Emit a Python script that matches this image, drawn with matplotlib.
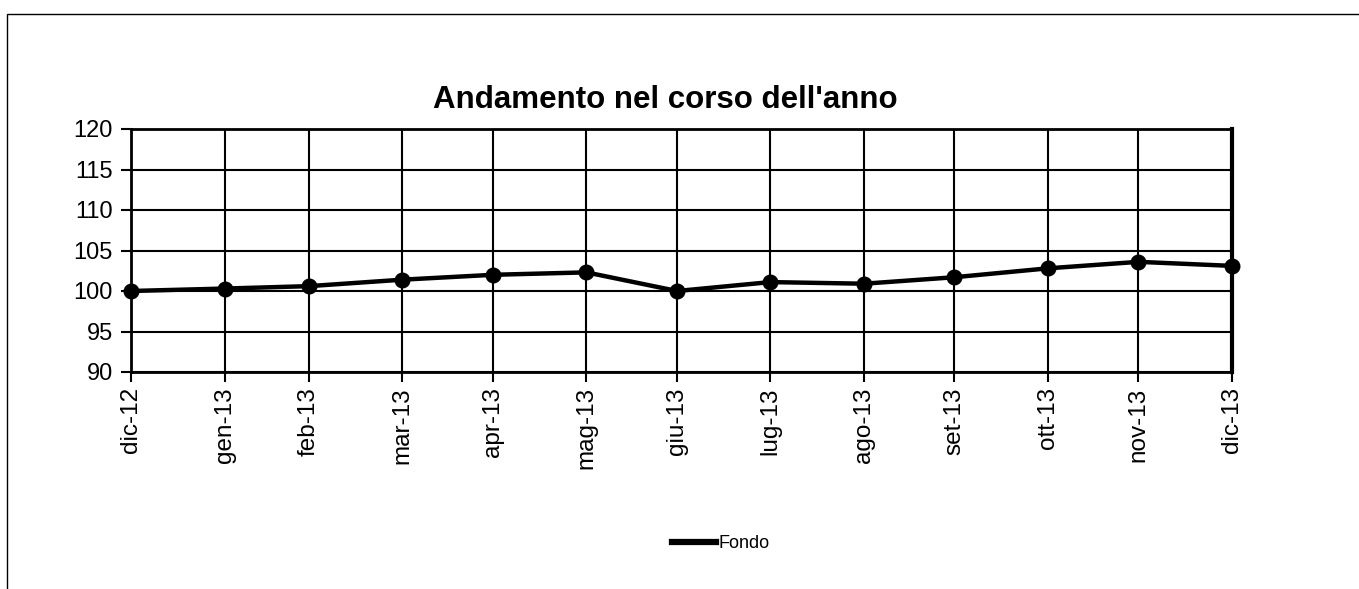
import matplotlib
matplotlib.use("Agg")
import matplotlib.pyplot as plt
from matplotlib.lines import Line2D
from matplotlib.patches import Rectangle
from datetime import datetime

plt.rcParams['font.family'] = ['Liberation Sans', 'DejaVu Sans']

# fine mese
date = ["2012-12-31", "2013-01-31", "2013-02-28", "2013-03-31", "2013-04-30",
        "2013-05-31", "2013-06-30", "2013-07-31", "2013-08-31", "2013-09-30",
        "2013-10-31", "2013-11-30", "2013-12-31"]
etichette = ["dic-12", "gen-13", "feb-13", "mar-13", "apr-13", "mag-13", "giu-13",
             "lug-13", "ago-13", "set-13", "ott-13", "nov-13", "dic-13"]
fondo = [100.0, 100.3, 100.6, 101.4, 102.0, 102.3, 100.0,
         101.1, 100.9, 101.7, 102.8, 103.6, 103.1]

giorni = [datetime.strptime(d, "%Y-%m-%d") for d in date]

W, H = 1359, 589
fig = plt.figure(figsize=(W / 100, H / 100), dpi=100)

# cornice esterna
fig.patches.append(Rectangle((7 / W, -0.2), 1.2, 1 - 14 / H + 0.2,
                             transform=fig.transFigure, fill=False,
                             edgecolor='black', linewidth=1))

ax = fig.add_axes([131 / W, 1 - 372 / H, (1232 - 131) / W, (372 - 129) / H])

ax.plot(giorni, fondo, color='black', linewidth=3.2, marker='o', markersize=10.5,
        clip_on=False, zorder=5)

ax.set_xlim(giorni[0], giorni[-1])
ax.set_ylim(90, 120)
ax.set_yticks(range(90, 121, 5))
ax.set_xticks(giorni)
ax.set_xticklabels(etichette, rotation=90, fontsize=17.5)
ax.tick_params(axis='y', labelsize=17, length=7, width=1.5, pad=6)
ax.tick_params(axis='x', length=7, width=1.5, pad=4)

ax.grid(True, color='black', linewidth=1.5)
ax.set_axisbelow(True)
for s in ['left', 'bottom', 'top']:
    ax.spines[s].set_linewidth(2)
ax.spines['right'].set_linewidth(3)

fig.text(665 / W, 1 - 108 / H, "Andamento nel corso dell'anno",
         ha='center', va='baseline', fontsize=22.5, fontweight='bold')

handle = Line2D([], [], color='black', linewidth=4.5)
fig.legend([handle], ["Fondo"], loc='center left',
           bbox_to_anchor=(672 / W, 1 - 544 / H), frameon=False,
           fontsize=13, handlelength=2.45, handletextpad=0.15,
           borderpad=0, borderaxespad=0)

fig.savefig("out.png", dpi=100)
